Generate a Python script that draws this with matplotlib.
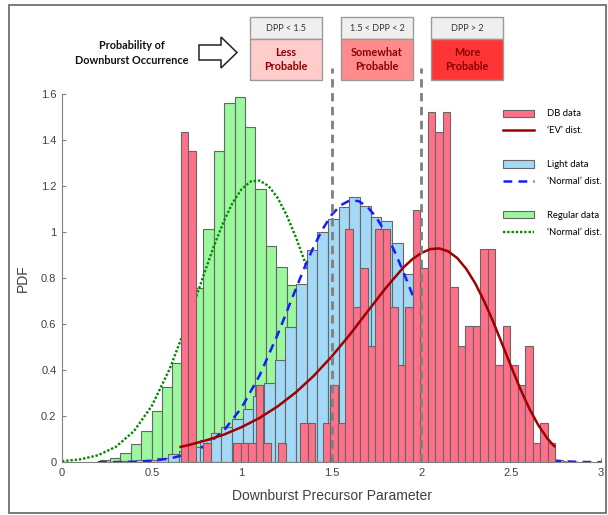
import numpy as np
import matplotlib
matplotlib.use("Agg")
import matplotlib.pyplot as plt
from matplotlib.patches import Rectangle, Polygon, Patch
from matplotlib.lines import Line2D
from matplotlib.ticker import FuncFormatter

# histogram bins: first edge, bin width, pdf per bin
db_start, db_width = 0.6605, 0.04168
db_pdf = [1.437, 1.352, 0, 0.0845, 0, 0, 0, 0.0845, 0.0845, 0.0845,
          0.338, 0.0845, 0, 0.0845, 0, 0, 0.169, 0.169, 0, 0.169,
          0.338, 0.169, 1.014, 0.676, 0.845, 0.507, 1.014, 1.014, 0.676, 0.4225,
          0.676, 1.0985, 0.845, 1.521, 1.4365, 1.521, 0.7605, 0.507, 0.5915, 0.5915,
          0.9295, 0.9295, 0.4225, 0.5915, 0.4225, 0.338, 0.507, 0.0845, 0.169, 0.0845]

light_start, light_width = 0.2337, 0.05938
light_pdf = [0.003, 0.004, 0.005, 0.008, 0.012, 0.02, 0.035, 0.05, 0.068, 0.095,
             0.129, 0.152, 0.188, 0.232, 0.29, 0.346, 0.445, 0.59, 0.775, 0.923,
             1.0, 1.058, 1.109, 1.152, 1.114, 1.068, 1.05, 0.952, 0.819, 0.62,
             0.52, 0.42, 0.33, 0.25, 0.19, 0.14, 0.1, 0.07, 0.05, 0.03,
             0.02, 0.01, 0.01]

reg_start, reg_width = 0.2092, 0.05782
reg_pdf = [0.008, 0.02, 0.042, 0.078, 0.137, 0.223, 0.329, 0.433, 0.58, 0.757,
           1.013, 1.355, 1.563, 1.59, 1.457, 1.187, 0.94, 0.848, 0.771, 0.5,
           0.35, 0.22, 0.12, 0.06, 0.03, 0.01]

# fitted curves
ev_x = [0.66, 0.7, 0.8, 0.9, 1.0, 1.1, 1.2, 1.3, 1.4, 1.5, 1.6, 1.7, 1.8, 1.9, 1.95,
        2.0, 2.05, 2.1, 2.15, 2.2, 2.25, 2.3, 2.35, 2.4, 2.45, 2.5, 2.55, 2.6, 2.65, 2.7, 2.74]
ev_y = [0.067, 0.074, 0.095, 0.120, 0.153, 0.193, 0.243, 0.303, 0.375, 0.459, 0.553, 0.655,
        0.756, 0.847, 0.883, 0.910, 0.927, 0.930, 0.917, 0.888, 0.841, 0.778, 0.700, 0.611,
        0.514, 0.416, 0.321, 0.235, 0.163, 0.105, 0.070]

light_fit_x = [0.2, 0.3, 0.4, 0.5, 0.6, 0.7, 0.8, 0.9, 1.0, 1.1, 1.2, 1.3, 1.35, 1.4, 1.45,
               1.5, 1.55, 1.6, 1.65, 1.7, 1.75, 1.8, 1.85, 1.9, 2.0, 2.1, 2.2, 2.3, 2.4,
               2.5, 2.6, 2.7, 2.8, 2.9, 3.0]
light_fit_y = [0.0003, 0.0009, 0.0026, 0.0068, 0.0163, 0.036, 0.0733, 0.137, 0.238, 0.378,
               0.555, 0.751, 0.847, 0.936, 1.013, 1.075, 1.117, 1.138, 1.136, 1.111, 1.064,
               0.999, 0.919, 0.828, 0.632, 0.445, 0.289, 0.173, 0.095, 0.048, 0.023,
               0.0098, 0.0039, 0.0014, 0.0005]

reg_fit_x = [0.0, 0.1, 0.2, 0.3, 0.4, 0.5, 0.6, 0.7, 0.8, 0.85, 0.9, 0.95, 1.0, 1.05, 1.1,
             1.15, 1.2, 1.25, 1.3, 1.35, 1.4, 1.5, 1.6, 1.7, 1.8, 1.9, 2.0, 2.1, 2.2,
             2.4, 2.6, 2.87]
reg_fit_y = [0.0048, 0.0127, 0.0306, 0.0674, 0.135, 0.2455, 0.407, 0.613, 0.840, 0.949,
             1.047, 1.129, 1.188, 1.221, 1.225, 1.201, 1.150, 1.075, 0.982, 0.876, 0.763,
             0.539, 0.346, 0.202, 0.108, 0.052, 0.023, 0.0092, 0.0033, 0.0003, 0.0, 0.0]

thresholds = [1.5, 2.0]
box_heads = ["DPP < 1.5", "1.5 < DPP < 2", "DPP > 2"]
box_texts = ["Less\nProbable", "Somewhat\nProbable", "More\nProbable"]
box_colors = ["#ffcccc", "#ff8c8c", "#ff3535"]

W, H = 608, 515
fig = plt.figure(figsize=(W / 100, H / 100), dpi=100)
ax = fig.add_axes([62 / W, 1 - 462.3 / H, 539 / W, 368 / H])

edge = "#666666"


def bars(start, width, pdf, color, z):
    lefts = start + width * np.arange(len(pdf))
    ax.bar(lefts, pdf, width=width, align="edge", color=color,
           edgecolor=edge, linewidth=0.8, zorder=z)


bars(reg_start, reg_width, reg_pdf, "#9cf89c", 1)
ax.plot(reg_fit_x, reg_fit_y, color="#008a00", lw=1.7, ls=(0, (1, 0.8)), zorder=2)
bars(light_start, light_width, light_pdf, "#a3d9f7", 3)
ax.plot(light_fit_x, light_fit_y, color="#1a1aff", lw=1.8, ls=(0, (3.5, 2.5)), zorder=4)
bars(db_start, db_width, db_pdf, "#ff7089", 5)
ax.plot(ev_x, ev_y, color="#a00000", lw=1.8, zorder=6)

for t in thresholds:
    ax.plot([t, t], [0, 1.715], color="#7f7f7f", lw=2, ls=(0, (3, 2)),
            zorder=7, clip_on=False)

ax.set_xlim(0, 3)
ax.set_ylim(0, 1.6)
ax.set_xticks([0, 0.5, 1, 1.5, 2, 2.5, 3])
ax.set_yticks(np.arange(0, 1.61, 0.2))
fmt = FuncFormatter(lambda v, p: f"{v:g}")
ax.xaxis.set_major_formatter(fmt)
ax.yaxis.set_major_formatter(fmt)
for s in ["top", "right"]:
    ax.spines[s].set_visible(False)
for s in ["left", "bottom"]:
    ax.spines[s].set_color("#808080")
    ax.spines[s].set_zorder(8)
ax.tick_params(direction="in", length=3, color="#808080", labelsize=8,
               labelcolor="#404040", pad=4)
for lab in ax.get_xticklabels() + ax.get_yticklabels():
    lab.set_family("Liberation Sans")
ax.set_xlabel("Downburst Precursor Parameter", fontsize=10, color="#404040",
              family="Liberation Sans", labelpad=8)
ax.set_ylabel("PDF", fontsize=10, color="#404040", family="Liberation Sans", labelpad=8)

blank = Line2D([], [], color="none")
handles = [Patch(facecolor="#ff7089", edgecolor=edge, linewidth=0.8),
           Line2D([], [], color="#a00000", lw=1.8), blank,
           Patch(facecolor="#a3d9f7", edgecolor=edge, linewidth=0.8),
           Line2D([], [], color="#1a1aff", lw=1.8, ls=(0, (3.5, 2.5))), blank,
           Patch(facecolor="#9cf89c", edgecolor=edge, linewidth=0.8),
           Line2D([], [], color="#008a00", lw=1.7, ls=(0, (1, 0.8)))]
labels = ["DB data", "\u2018EV\u2019 dist.", "",
          "Light data", "\u2018Normal\u2019 dist.", "",
          "Regular data", "\u2018Normal\u2019 dist."]
leg = ax.legend(handles, labels, loc="upper left", bbox_to_anchor=(0.802, 0.982),
                frameon=False, handlelength=3.3, handleheight=0.8,
                labelspacing=0.84, handletextpad=1.4,
                prop={"family": "Lato", "size": 6.8})
leg.set_zorder(9)

# overlay for the header graphics, in pixel coordinates
ov = fig.add_axes([0, 0, 1, 1], zorder=10)
ov.set_xlim(0, W)
ov.set_ylim(H, 0)
ov.axis("off")
ov.add_patch(Rectangle((8.5, 4.5), 597, 508, fill=False, edgecolor="#707070", lw=1.3))

ov.text(132, 53, "Probability of\nDownburst Occurrence", ha="center", va="center",
        fontsize=7.8, fontweight="bold", family="Lato", linespacing=1.55, color="#111111")
ov.add_patch(Polygon([(199, 45), (221, 45), (221, 37), (237, 52.5), (221, 68),
                      (221, 60), (199, 60)], closed=True, facecolor="white",
                     edgecolor="#222222", lw=1.1))

for i, x0 in enumerate([250, 341, 431]):
    ov.add_patch(Rectangle((x0, 17), 72, 22, facecolor="#efefef", edgecolor="#9a9a9a", lw=1))
    ov.add_patch(Rectangle((x0, 39), 72, 41, facecolor=box_colors[i], edgecolor="#9a9a9a", lw=1))
    ov.text(x0 + 36, 28.5, box_heads[i], ha="center", va="center", fontsize=6.5,
            family="Lato", color="#333333")
    ov.text(x0 + 36, 59.5, box_texts[i], ha="center", va="center", fontsize=7.8,
            fontweight="bold", family="Lato", color="#8c0000", linespacing=1.35)

fig.savefig("out.png", dpi=100)
